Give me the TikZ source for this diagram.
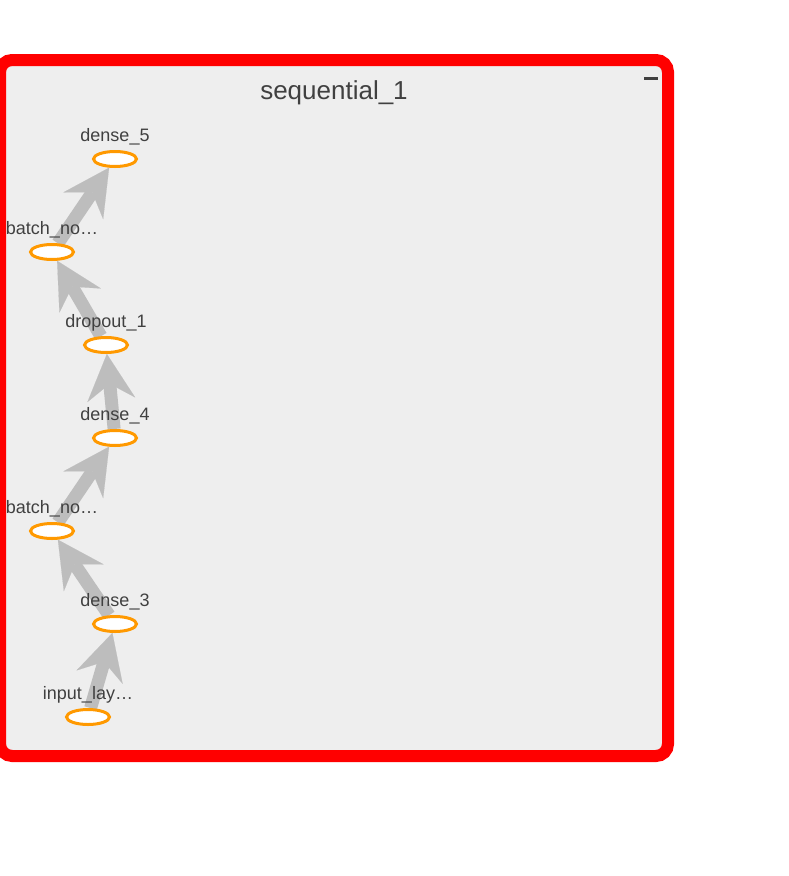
\documentclass[tikz,border=0pt]{standalone}
\usepackage{fontspec}
\setmainfont{Liberation Sans}
\usetikzlibrary{arrows.meta,shapes.geometric}
\definecolor{boxred}{HTML}{FF0000}
\definecolor{boxfill}{HTML}{EEEEEE}
\definecolor{nodeorange}{HTML}{FF9900}
\definecolor{edgegray}{HTML}{BDBDBD}
\definecolor{txtgray}{HTML}{404040}
\pgfdeclarelayer{bg}
\pgfdeclarelayer{edges}
\pgfsetlayers{bg,edges,main}
\begin{document}
\begin{tikzpicture}[x=1pt,y=-1pt,
  opnode/.style={ellipse, draw=nodeorange, line width=3pt, fill=white,
    minimum width=43pt, minimum height=15pt, inner sep=0pt},
  lbl/.style={anchor=base, text=txtgray, font=\fontsize{18}{20}\selectfont, inner sep=0pt},
  titletext/.style={anchor=base, text=txtgray, font=\fontsize{26}{30}\selectfont, inner sep=0pt},
  flow/.style={draw=edgegray, line width=13pt,
    -{Stealth[length=46pt,width=48pt,inset=16pt,line width=0.1pt]}},
  groupbox/.style={draw=boxred, fill=boxfill, line width=12pt, rounded corners=12pt}
]
\useasboundingbox (0,0) rectangle (789,876);
\begin{pgfonlayer}{bg}
  \draw[groupbox] (0,60) rectangle (668,756);
  \draw[line width=3pt, draw=txtgray] (644,78) -- (658,78);
\end{pgfonlayer}
\node[titletext] (title) at (334,99) {sequential\_1};

\node[opnode] (in) at (88,717) {};
\node[opnode] (d3) at (115,624) {};
\node[opnode] (b1) at (52,531) {};
\node[opnode] (d4) at (115,438) {};
\node[opnode] (dr) at (106,345) {};
\node[opnode] (b2) at (52,252) {};
\node[opnode] (d5) at (115,159) {};

\begin{pgfonlayer}{edges}
  \draw[flow] (in) -- (d3);
  \draw[flow] (d3) -- (b1);
  \draw[flow] (b1) -- (d4);
  \draw[flow] (d4) -- (dr);
  \draw[flow] (dr) -- (b2);
  \draw[flow] (b2) -- (d5);
\end{pgfonlayer}

\node[lbl] (lin) at (88,699) {input\_lay…};
\node[lbl] (ld3) at (115,606) {dense\_3};
\node[lbl] (lb1) at (52,513) {batch\_no…};
\node[lbl] (ld4) at (115,420) {dense\_4};
\node[lbl] (ldr) at (106,327) {dropout\_1};
\node[lbl] (lb2) at (52,234) {batch\_no…};
\node[lbl] (ld5) at (115,141) {dense\_5};
\end{tikzpicture}
\end{document}
